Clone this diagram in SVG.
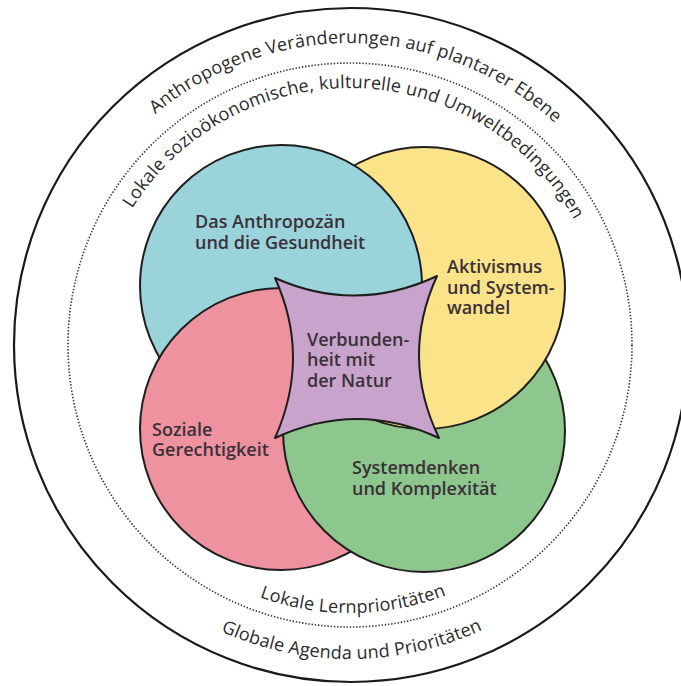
<svg xmlns="http://www.w3.org/2000/svg" width="681" height="686" viewBox="0 0 681 686">
<style>
.ring{fill:none;stroke:#1a1a1a;stroke-width:2.2}
.dots{fill:none;stroke:#333;stroke-width:1.6;stroke-dasharray:1.4 1.8}
.c{stroke:#1e1e1e;stroke-width:2}
.arc{font-family:"Open Sans","Noto Sans",sans-serif;font-size:18px;font-weight:500;fill:#2b2b2b;letter-spacing:0.2px}
.lbl{font-family:"Open Sans","Noto Sans",sans-serif;font-size:18px;font-weight:600;fill:#3a3138}
</style>
<defs>
<path id="pT1" d="M 48,345 A 302 302 0 0 1 652,345"/>
<path id="pT2" d="M 93,345 A 257 257 0 0 1 607,345"/>
<path id="pT3" d="M 82,345 A 268 268 0 0 0 618,345"/>
<path id="pT4" d="M 36,345 A 314 314 0 0 0 664,345"/>
<clipPath id="clipBlue"><circle cx="281" cy="286" r="143"/></clipPath>
</defs>
<rect width="681" height="686" fill="#fff"/>
<g id="outer">
<circle class="ring" cx="351" cy="345" r="337"/>
<text class="arc"><textPath href="#pT1" startOffset="481" text-anchor="middle">Anthropogene Veränderungen auf plantarer Ebene</textPath></text>
<text class="arc"><textPath href="#pT4" startOffset="495" text-anchor="middle">Globale Agenda und Prioritäten</textPath></text>
</g>
<g id="local">
<circle class="dots" cx="350" cy="345" r="282"/>
<text class="arc"><textPath href="#pT2" startOffset="410" text-anchor="middle">Lokale sozioökonomische, kulturelle und Umweltbedingungen</textPath></text>
<text class="arc"><textPath href="#pT3" startOffset="424" text-anchor="middle">Lokale Lernprioritäten</textPath></text>
</g>
<g id="pink">
<circle class="c" cx="281" cy="429" r="141" fill="#ee92a0"/>
</g>
<g id="green">
<circle class="c" cx="424" cy="431" r="141" fill="#8dc78d"/>
</g>
<g id="yellow">
<circle class="c" cx="424" cy="288" r="141" fill="#fbe38a"/>
</g>
<g id="blue">
<circle class="c" cx="281" cy="286" r="141" fill="#9bd3db"/>
</g>
<g id="pink-over" clip-path="url(#clipBlue)">
<circle class="c" cx="281" cy="429" r="141" fill="#ee92a0"/>
</g>
<g id="center">
<path class="c" fill="#c8a3cc" stroke-linejoin="round" d="M 275,278 Q 356,314 437,276 Q 400,357 439,438 Q 357,400 275,438 Q 311,357 275,278 Z"/>
</g>
<g id="labels">
<text class="lbl" x="195" y="228">Das Anthropozän</text>
<text class="lbl" x="195" y="249">und die Gesundheit</text>
<text class="lbl" x="447" y="273">Aktivismus</text>
<text class="lbl" x="447" y="294">und System-</text>
<text class="lbl" x="447" y="314">wandel</text>
<text class="lbl" x="307" y="346">Verbunden-</text>
<text class="lbl" x="307" y="366">heit mit</text>
<text class="lbl" x="307" y="387">der Natur</text>
<text class="lbl" x="152" y="436">Soziale</text>
<text class="lbl" x="152" y="456">Gerechtigkeit</text>
<text class="lbl" x="352" y="474">Systemdenken</text>
<text class="lbl" x="352" y="495">und Komplexität</text>
</g>
</svg>
